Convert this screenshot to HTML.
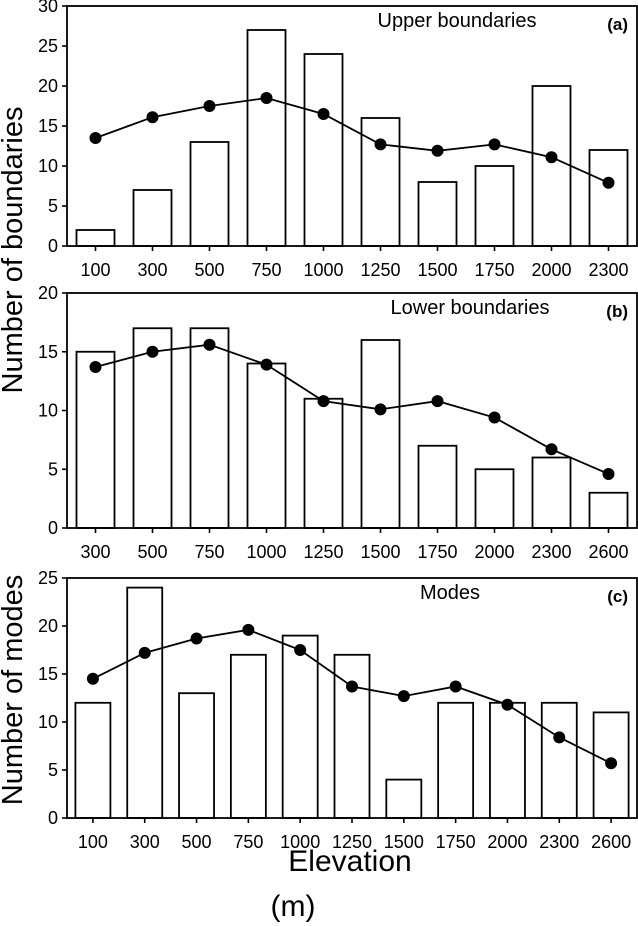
<!DOCTYPE html>
<html><head><meta charset="utf-8"><style>
body{margin:0;background:#fff}
svg{display:block;font-family:"Liberation Sans",Arial,sans-serif}
</style></head><body>
<svg id="c" width="638" height="926" viewBox="0 0 638 926" xmlns="http://www.w3.org/2000/svg">
<text x="22" y="250" font-size="29" text-anchor="middle" transform="rotate(-90 22 250)">Number of boundaries</text>
<text x="22" y="690" font-size="29" text-anchor="middle" transform="rotate(-90 22 690)">Number of modes</text>
<text x="350" y="871" font-size="30" text-anchor="middle">Elevation</text>
<text x="293" y="916" font-size="30" text-anchor="middle">(m)</text>
</svg>
<script>
const catsA=["100","300","500","750","1000","1250","1500","1750","2000","2300"];
const barsA=[2,7,13,27,24,16,8,10,20,12];
const lineA=[13.5,16.1,17.5,18.5,16.5,12.7,11.9,12.7,11.1,7.9];
const ticksA=[0,5,10,15,20,25,30];
const catsB=["300","500","750","1000","1250","1500","1750","2000","2300","2600"];
const barsB=[15,17,17,14,11,16,7,5,6,3];
const lineB=[13.7,15,15.6,13.9,10.8,10.1,10.8,9.4,6.7,4.6];
const ticksB=[0,5,10,15,20];
const catsC=["100","300","500","750","1000","1250","1500","1750","2000","2300","2600"];
const barsC=[12,24,13,17,19,17,4,12,12,12,11];
const lineC=[14.5,17.2,18.7,19.6,17.5,13.7,12.7,13.7,11.8,8.4,5.7];
const ticksC=[0,5,10,15,20,25];

const svg=document.getElementById('c');
const NS='http://www.w3.org/2000/svg';
function mk(tag,attrs,parent){const e=document.createElementNS(NS,tag);for(const k in attrs)e.setAttribute(k,attrs[k]);(parent||svg).appendChild(e);return e;}

function panel(id,top,bottom,cats,bars,line,ticks,title,titleX,tag,barW){
  const g=mk('g',{});
  
  
  const L=67,R=637,ymax=ticks[ticks.length-1];
  const slot=(R-L)/cats.length;
  const xs=i=>L+slot*(i+0.5);
  const ys=v=>bottom-(v/ymax)*(bottom-top);
  bars.forEach((v,i)=>{
    const r=mk('rect',{x:xs(i)-barW/2,y:ys(v),width:barW,height:bottom-ys(v),fill:'#fff',stroke:'#000','stroke-width':1.8},g);
    
    
  });
  const frame=mk('rect',{x:L,y:top,width:R-L,height:bottom-top,fill:'none',stroke:'#000','stroke-width':1.8},g);
  
  
  ticks.forEach(t=>{
    const y=ys(t);
    mk('line',{x1:L-5,x2:L,y1:y,y2:y,stroke:'#000','stroke-width':1.6},g);
    const tx=mk('text',{x:L-9,y:y+6,'font-size':18,'text-anchor':'end'},g);
    tx.textContent=t;
    
    
  });
  cats.forEach((c,i)=>{
    const x=xs(i);
    mk('line',{x1:x,x2:x,y1:bottom,y2:bottom+5,stroke:'#000','stroke-width':1.6},g);
    const tx=mk('text',{x:x,y:bottom+30,'font-size':18,'text-anchor':'middle'},g);
    tx.textContent=c;
    
    
  });
  const pl=mk('polyline',{points:line.map((v,i)=>xs(i)+','+ys(v)).join(' '),fill:'none',stroke:'#000','stroke-width':1.8},g);
  
  
  line.forEach((v,i)=>{
    const c=mk('circle',{cx:xs(i),cy:ys(v),r:6,fill:'#000'},g);
    
    
  });
  const tt=mk('text',{x:titleX,y:top+21,'font-size':20,'text-anchor':'middle'},g);
  tt.textContent=title;
  
  
  const tg=mk('text',{x:628,y:top+24,'font-size':17,'font-weight':'bold','text-anchor':'end'},g);
  tg.textContent=tag;
  
  
}
panel('a',6,246,catsA,barsA,lineA,ticksA,'Upper boundaries',457,'(a)',38);
panel('b',293,528,catsB,barsB,lineB,ticksB,'Lower boundaries',470,'(b)',38);
panel('c',578,818,catsC,barsC,lineC,ticksC,'Modes',450,'(c)',35);
</script>
</body></html>
